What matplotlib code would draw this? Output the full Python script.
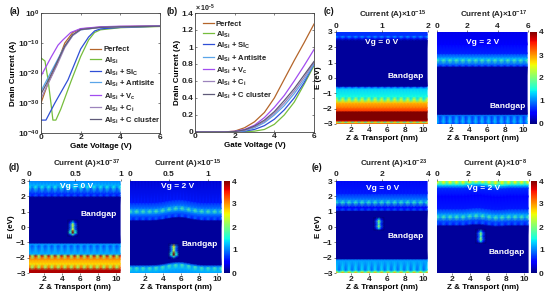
import numpy as np
import matplotlib
matplotlib.use("Agg")
import matplotlib.pyplot as plt
from matplotlib.lines import Line2D

plt.rcParams.update({
    'font.family': 'Liberation Sans', 'font.weight': 'bold', 'font.size': 6.0,
    'axes.labelweight': 'bold',
    'mathtext.fontset': 'custom', 'mathtext.rm': 'Liberation Sans:bold',
    'mathtext.bf': 'Liberation Sans:bold', 'mathtext.it': 'Liberation Sans:bold',
    'mathtext.default': 'rm', 'axes.linewidth': 0.6, 'axes.edgecolor': '#444444',
    'xtick.major.size': 1.5, 'ytick.major.size': 1.5, 'xtick.major.width': 0.4,
    'ytick.major.width': 0.4, 'xtick.major.pad': 1.0, 'ytick.major.pad': 1.2,
    'xtick.color': '#222222', 'ytick.color': '#222222',
})

W, H = 550, 299

# ---------- panel (a): log10 drain current ----------
labels = ['Perfect', 'Al$_{Si}$', 'Al$_{Si}$ + Si$_{C}$', 'Al$_{Si}$ + Antisite',
          'Al$_{Si}$ + V$_{c}$', 'Al$_{Si}$ + C$_{i}$', 'Al$_{Si}$ + C cluster']
colors = ['#b4652a', '#76bd3c', '#2f4fd6', '#5aa5e8', '#a24df0', '#9c84bc', '#5f5a78']

a_perfect_v = [0, 0.35, 0.8, 1.2, 1.6, 2.0, 3.0, 4.0, 6.0]
a_perfect_i = [-30, -23.5, -17, -10, -6.5, -5.3, -4.7, -4.5, -4.3]
a_al_v = [0, 0.2, 0.35, 0.5, 0.6, 0.75, 1.0, 1.5, 2.0, 2.4, 2.7, 3.0, 4.0, 6.0]
a_al_i = [-15, -16, -22, -30, -35.7, -35.7, -32, -23, -14.5, -9, -6.5, -5.6, -4.9, -4.5]
a_sic_v = [0, 0.25, 0.7, 1.36, 2.0, 2.4, 2.7, 3.0, 4.0, 6.0]
a_sic_i = [-35.7, -35.7, -30, -22.3, -12, -8, -6, -5.3, -4.8, -4.4]
a_anti_v = [0, 0.4, 0.8, 1.2, 1.6, 2.0, 3.0, 4.0, 6.0]
a_anti_i = [-26, -21, -16, -11, -7.5, -5.6, -4.8, -4.6, -4.4]
a_vc_v = [0, 0.52, 0.86, 1.1, 1.5, 2.0, 3.0, 4.0, 6.0]
a_vc_i = [-21, -14.6, -10.7, -9, -6.5, -5.2, -4.6, -4.4, -4.3]
a_ci_v = [0, 0.4, 0.8, 1.2, 1.6, 2.0, 3.0, 4.0, 6.0]
a_ci_i = [-28.5, -23, -17.5, -11.5, -7.5, -5.6, -4.8, -4.6, -4.4]
a_cl_v = [0, 0.4, 0.8, 1.2, 1.6, 2.0, 3.0, 4.0, 6.0]
a_cl_i = [-27, -22, -16.5, -11, -7.2, -5.5, -4.8, -4.6, -4.4]

# ---------- panel (b): linear drain current (x 1e-5 A) ----------
b_v = [0, 1, 1.5, 2, 2.5, 3, 3.5, 4, 4.5, 5, 5.5, 6]
b_perfect = [0, 0, .001, .01, .05, .12, .23, .40, .62, .84, 1.05, 1.27]
b_al = [0, 0, 0, 0, .002, .01, .03, .09, .20, .35, .56, .78]
b_sic = [0, 0, 0, .001, .01, .03, .075, .15, .26, .40, .58, .80]
b_anti = [0, 0, 0, .003, .015, .05, .11, .20, .31, .45, .61, .80]
b_vc = [0, 0, .001, .008, .03, .08, .17, .29, .43, .60, .78, .97]
b_ci = [0, 0, 0, .004, .02, .06, .125, .22, .34, .48, .64, .82]
b_cl = [0, 0, 0, .005, .025, .07, .14, .24, .37, .51, .67, .83]

# ---------- heat maps: energy rows, current density, dotted rows ----------
c0_E = [-3.4, -2.95, -2.87, -2.78, -2.7, -2.2, -2.12, -1.95, -1.6, -1.42, -1.3, -1.2, -0.7, -0.58, -0.52, 2.45, 2.6, 2.7, 2.8, 3.4]
c0_V = [3.3, 3.2, 2.6, 3.7, 4.0, 4.0, 3.4, 3.2, 2.8, 2.5, 2.2, 1.5, 1.3, 1.1, 0.1, 0.1, 0.7, 1.2, 0.7, 0.7]
c0_dots = [2, 9, 10, 13, 16, 17]
c1_E = [-3.4, -2.95, -2.85, -2.5, -2.42, -2.35, 0.72, 0.8, 0.9, 1.15, 1.3, 1.6, 2.2, 3.4]
c1_V = [1.1, 1.1, 1.3, 1.1, 1.0, 0.1, 0.1, 0.9, 0.9, 1.8, 1.2, 0.65, 0.45, 0.35]
c1_dots = [1, 2, 3, 7, 9]
d0_E = [-3.4, -2.8, -2.65, -2.4, -2.1, -1.95, -1.87, -1.75, -1.25, -1.1, -1.02, 1.95, 2.05, 2.2, 2.6, 2.75, 3.4]
d0_V = [3.9, 3.8, 3.3, 2.7, 3.0, 3.4, 3.8, 1.2, 1.2, 1.1, 0.1, 0.1, 0.9, 0.7, 1.5, 1.2, 0.8]
d0_dots = [2, 5, 6, 8, 12, 14]
d1_E = [-3.4, -2.9, -2.65, -2.55, -2.45, 0.42, 0.5, 0.7, 0.85, 1.0, 1.2, 1.6, 3.4]
d1_V = [1.0, 1.2, 1.8, 1.0, 0.1, 0.1, 0.9, 0.8, 1.0, 1.8, 1.0, 0.6, 0.25]
d1_dots = [2, 6, 9]
e0_E = [-3.4, -2.97, -2.9, -2.8, -2.2, -2.12, -2.05, 1.05, 1.12, 1.3, 1.6, 1.8, 2.2, 3.4]
e0_V = [3.0, 3.0, 2.4, 1.4, 1.15, 1.0, 0.1, 0.1, 0.9, 0.5, 1.7, 1.0, 0.6, 0.4]
e0_dots = [1, 2, 3, 8, 10]
e1_E = [-3.4, 0.08, 0.18, 0.4, 0.65, 0.85, 1.2, 2.0, 2.55, 2.75, 2.88, 3.4]
e1_V = [0.1, 0.1, 0.9, 0.8, 1.8, 1.1, 0.6, 0.45, 0.7, 1.4, 2.6, 2.4]
e1_dots = [2, 4, 10]

x_cols = np.linspace(0.4, 10.4, 29)
no_bump = [0] * 29
d1_bump = [0, 0, 0, 0, 0, 0, 0, .01, .02, .04, .07, .11, .15, .18, .2, .21, .2, .17, .13, .09, .06, .03, .01, 0, 0, 0, 0, 0, 0]
e1_bump = [0, 0, 0, 0, 0, 0, 0, 0, 0, .02, .04, .06, .07, .07, .05, .02, 0, -.03, -.04, -.04, -.03, -.02, 0, 0, 0, 0, 0, 0, 0]

spot_width = [0, 0.38, 1, 0.38, 0]
d0_spot_E = [-0.6, -0.47, -0.38, -0.28, -0.15, 0.0, 0.15, 0.3, 0.45]
d0_spot_V = [0, 1.6, 4.0, 4.0, 2.5, 2.0, 2.5, 1.4, 0]
d1_spot_E = [-2.05, -1.92, -1.82, -1.7, -1.55, -1.4, -1.25, -1.1]
d1_spot_V = [0, 1.6, 4.0, 4.0, 2.3, 2.2, 2.6, 0]
e0_spot_E = [-0.2, -0.08, 0.05, 0.2, 0.38, 0.5, 0.62]
e0_spot_V = [0, 1.4, 2.2, 1.6, 2.2, 1.4, 0]
e1_spot_E = [-1.05, -0.92, -0.78, -0.6, -0.42, -0.3, -0.15]
e1_spot_V = [0, 1.4, 2.2, 1.6, 2.2, 1.4, 0]

fig = plt.figure(figsize=(5.5, 2.99), dpi=100)


def box(l, t, r, b):
    return [l / W, 1 - b / H, (r - l) / W, (b - t) / H]


def ptext(x, y, s, **kw):
    kw.setdefault('ha', 'center')
    kw.setdefault('va', 'center')
    kw.setdefault('color', '#222222')
    fig.text(x / W, 1 - y / H, s, **kw)


def legend(x0, x1, xt, rows):
    for y, c, lab in zip(rows, colors, labels):
        fig.add_artist(Line2D([x0 / W, x1 / W], [1 - y / H, 1 - y / H], color=c, lw=0.9))
        ptext(xt, y, lab, ha='left', va='center_baseline', fontsize=5.5)


# panel a
ax = fig.add_axes(box(41, 13, 160, 133))
series_a = [(a_perfect_v, a_perfect_i), (a_al_v, a_al_i), (a_sic_v, a_sic_i), (a_anti_v, a_anti_i),
            (a_vc_v, a_vc_i), (a_ci_v, a_ci_i), (a_cl_v, a_cl_i)]
for (v, i), c in zip(series_a, colors):
    ax.plot(v, np.power(10.0, i), color=c, lw=0.9)
ax.set_yscale('log')
ax.set_xlim(0, 6)
ax.set_ylim(1e-40, 1)
ax.set_yticks([1, 1e-10, 1e-20, 1e-30, 1e-40])
ax.set_yticklabels(['$10^{0}$', '$10^{-10}$', '$10^{-20}$', '$10^{-30}$', '$10^{-40}$'])
ax.minorticks_off()
ax.set_xticks([0, 2, 4, 6])
ax.tick_params(direction='in', top=True, right=True)
ax.set_xlabel('Gate Voltage (V)', labelpad=1.0, fontsize=5.8)
ax.set_ylabel('Drain Current (A)', labelpad=0.5, fontsize=5.8)
legend(90, 101, 104, [48.7, 59, 71, 82, 95, 107, 119])

# panel b
ax = fig.add_axes(box(195, 13, 314, 132))
series_b = [b_perfect, b_al, b_sic, b_anti, b_vc, b_ci, b_cl]
for y, c in zip(series_b, colors):
    ax.plot(b_v, y, color=c, lw=0.9)
ax.set_xlim(0, 6)
ax.set_ylim(0, 1.4)
ax.set_yticks([0, .2, .4, .6, .8, 1, 1.2, 1.4])
ax.set_yticklabels(['0', '0.2', '0.4', '0.6', '0.8', '1', '1.2', '1.4'])
ax.set_xticks([0, 2, 4, 6])
ax.tick_params(direction='in', top=True, right=True)
ax.set_xlabel('Gate Voltage (V)', labelpad=1.0, fontsize=5.8)
ax.set_ylabel('Drain Current (A)', labelpad=0.5, fontsize=5.8)
legend(203, 214, 216, [23, 33, 44, 57, 69, 81, 94])
ptext(205, 8, r'$\times\,10^{-5}$', fontsize=5)

for s, x, y in [('(a)', 15, 12), ('(b)', 172, 11), ('(c)', 329, 11), ('(d)', 14, 168), ('(e)', 317, 168)]:
    ptext(x, y, s, fontsize=6.2, color='#111111')


def heat(rect, E, V, dots, bump, top_ticks, top_labels, top_max, left, spot=None):
    ax = fig.add_axes(box(*rect))
    Z = np.outer(V, np.ones(len(x_cols)))
    Z[np.ix_(dots, range(1, len(x_cols), 2))] *= 0.62
    X = np.tile(x_cols, (len(E), 1))
    Y = np.outer(E, np.ones(len(x_cols))) + np.asarray(bump)[None, :]
    m = ax.pcolormesh(X, Y, Z, shading='gouraud', cmap='jet', vmin=0, vmax=4)
    if spot is not None:
        sx, sE, sV = spot
        xs = sx + np.array([-0.55, -0.27, 0, 0.27, 0.55])
        ax.pcolormesh(np.tile(xs, (len(sE), 1)), np.outer(sE, np.ones(5)),
                      np.outer(sV, spot_width), shading='gouraud', cmap='jet', vmin=0, vmax=4)
    ax.set_xlim(0.4, 10.5)
    ax.set_ylim(-3, 3)
    ax.set_xticks([2, 4, 6, 8, 10])
    ax.set_xlabel('Z & Transport (nm)', labelpad=1.0, fontsize=5.8)
    ax.tick_params(length=1.2)
    if left:
        ax.set_yticks([-3, -2, -1, 0, 1, 2, 3])
        ax.set_ylabel('E (eV)', labelpad=1, fontsize=5.8)
    else:
        ax.set_yticks([])
    top = ax.twiny()
    top.set_xlim(0, top_max)
    top.set_xticks(top_ticks)
    top.set_xticklabels(top_labels)
    top.tick_params(length=1.2, pad=0.6)
    for a in (ax, top):
        for sp in a.spines.values():
            sp.set_visible(False)
    return m


def cbar(rect, m):
    cax = fig.add_axes(box(*rect))
    cb = fig.colorbar(m, cax=cax)
    cb.set_ticks([0, 1, 2, 3, 4])
    cb.outline.set_visible(False)
    cb.ax.tick_params(length=0, pad=1.5)


heat((336, 32, 428, 124), c0_E, c0_V, c0_dots, no_bump, [0, 1, 2], ['0', '1', '2'], 2, True)
m = heat((437, 32, 528, 124), c1_E, c1_V, c1_dots, no_bump, [0, 2, 4, 6], ['0', '2', '4', '6'], 6, False)
cbar((530, 32, 537, 124), m)
heat((29, 181, 121, 273), d0_E, d0_V, d0_dots, no_bump, [0, .5, 1], ['0', '0.5', '1'], 1, True,
     spot=(5.2, d0_spot_E, d0_spot_V))
m = heat((130, 181, 222, 273), d1_E, d1_V, d1_dots, d1_bump, [0, .5, 1], ['0', '0.5', '1'], 1.18, False,
         spot=(5.2, d1_spot_E, d1_spot_V))
cbar((224, 181, 230, 273), m)
heat((336, 181, 428, 273), e0_E, e0_V, e0_dots, no_bump, [0, 2, 4], ['0', '2', '4'], 4, True,
     spot=(5.1, e0_spot_E, e0_spot_V))
m = heat((437, 181, 529, 273), e1_E, e1_V, e1_dots, e1_bump, [0, 2, 4, 6], ['0', '2', '4', '6'], 6, False,
         spot=(5.2, e1_spot_E, e1_spot_V))
cbar((531, 181, 537, 273), m)

titles = [(393, 15.5, '-15'), (494, 15.5, '-17'), (87, 164, '-37'), (188, 164, '-15'), (394, 164, '-23'), (495, 164, '-8')]
for x, y, e in titles:
    ptext(x, y, 'Current (A)$\\times 10^{%s}$' % e, fontsize=5.8)

vg = [(382, 43, '0'), (483, 43, '2'), (77, 187, '0'), (178, 187, '2'), (383, 189, '0'), (484, 189, '2')]
for x, y, v in vg:
    ptext(x, y, 'Vg = %s V' % v, color='white', fontsize=6)
gaps = [(406, 76), (508, 106), (99, 215), (200, 245), (406, 237), (507, 252)]
for x, y in gaps:
    ptext(x, y, 'Bandgap', color='white', fontsize=6)

fig.savefig('out.png', dpi=100)
